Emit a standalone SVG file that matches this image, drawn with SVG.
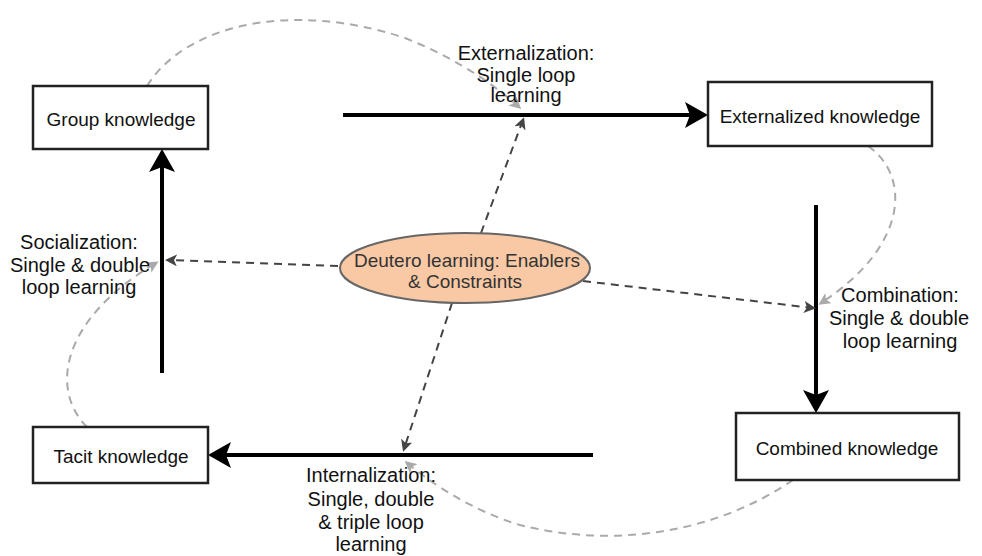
<svg xmlns="http://www.w3.org/2000/svg" width="982" height="556" viewBox="0 0 982 556">
<defs>
<style>
text{font-family:"Liberation Sans",Arial,sans-serif;font-size:19px;fill:#111;text-anchor:middle}
.lb{font-size:20px}
.box{fill:#fff;stroke:#222;stroke-width:2.5}
.thick{fill:none;stroke:#000;stroke-width:4}
.dd{fill:none;stroke:#444;stroke-width:2;stroke-dasharray:8 6}
.gd{fill:none;stroke:#aaa;stroke-width:2;stroke-dasharray:8 6}
</style>
<marker id="big" markerUnits="userSpaceOnUse" viewBox="0 0 23 26" refX="5" refY="13" markerWidth="23" markerHeight="26" orient="auto">
<path d="M0,0 L23,13 L0,26 L5,13 Z" fill="#000"/>
</marker>
<marker id="dk" markerUnits="userSpaceOnUse" viewBox="0 0 12 12" refX="9" refY="6" markerWidth="12" markerHeight="12" orient="auto">
<path d="M0,0 L12,6 L0,12 L3,6 Z" fill="#444"/>
</marker>
<marker id="gr" markerUnits="userSpaceOnUse" viewBox="0 0 12 12" refX="9" refY="6" markerWidth="12" markerHeight="12" orient="auto">
<path d="M0,0 L12,6 L0,12 L3,6 Z" fill="#aaa"/>
</marker>
</defs>
<rect width="982" height="556" fill="#fff"/>
<g id="connectors">
<path class="gd" d="M147,86 C185,25 290,0 405,38 C465,62 500,90 519,107" marker-end="url(#gr)"/>
<path class="gd" d="M868,146 C910,175 910,245 821,303" marker-end="url(#gr)"/>
<path class="gd" d="M793,480 C720,530 620,550 520,525 C470,510 430,482 407,463" marker-end="url(#gr)"/>
<path class="gd" d="M87,427 C50,390 60,320 156,263" marker-end="url(#gr)"/>
<path class="thick" d="M343,115 L690,115" marker-end="url(#big)"/>
<path class="thick" d="M816,205 L816,395" marker-end="url(#big)"/>
<path class="thick" d="M593,455 L226,455" marker-end="url(#big)"/>
<path class="thick" d="M162,373 L162,167" marker-end="url(#big)"/>
<path class="dd" d="M338,266 L168,260" marker-end="url(#dk)"/>
<path class="dd" d="M481,233 L523,120" marker-end="url(#dk)"/>
<path class="dd" d="M583,281 L813,308" marker-end="url(#dk)"/>
<path class="dd" d="M452,303 L404,449" marker-end="url(#dk)"/>
</g>
<g id="n-group">
<rect class="box" x="33" y="86" width="175" height="63"/>
<text x="121" y="126">Group knowledge</text>
</g>
<g id="n-externalized">
<rect class="box" x="708" y="82" width="224" height="64"/>
<text x="820" y="123">Externalized knowledge</text>
</g>
<g id="n-tacit">
<rect class="box" x="33" y="427" width="175" height="56"/>
<text x="121" y="463">Tacit knowledge</text>
</g>
<g id="n-combined">
<rect class="box" x="736" y="413" width="223" height="67"/>
<text x="847" y="455">Combined knowledge</text>
</g>
<g id="n-deutero">
<ellipse cx="465" cy="268" rx="125" ry="35" fill="#f9c9a5" stroke="#666" stroke-width="2"/>
<text x="467" y="267" style="fill:#333">Deutero learning: Enablers</text>
<text x="465" y="288" style="fill:#333">&amp; Constraints</text>
</g>
<g id="labels">
<text class="lb" x="526" y="60">Externalization:</text>
<text class="lb" x="526" y="82">Single loop</text>
<text class="lb" x="526" y="102">learning</text>
<text class="lb" x="79" y="249">Socialization:</text>
<text class="lb" x="80" y="272">Single &amp; double</text>
<text class="lb" x="79" y="294">loop learning</text>
<text class="lb" x="900" y="302">Combination:</text>
<text class="lb" x="899" y="325">Single &amp; double</text>
<text class="lb" x="900" y="348">loop learning</text>
<text class="lb" x="371" y="482">Internalization:</text>
<text class="lb" x="371" y="506">Single, double</text>
<text class="lb" x="371" y="529">&amp; triple loop</text>
<text class="lb" x="371" y="551">learning</text>
</g>
</svg>
